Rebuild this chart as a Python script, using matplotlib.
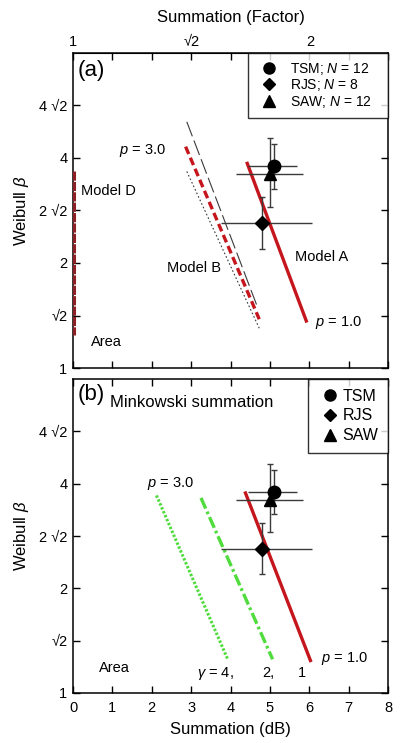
import numpy as np
import matplotlib
matplotlib.use("Agg")
import matplotlib.pyplot as plt
from matplotlib.lines import Line2D

plt.rcParams["font.family"] = ["Liberation Sans", "DejaVu Sans"]
plt.rcParams["mathtext.fontset"] = "custom"
plt.rcParams["mathtext.rm"] = "Liberation Sans"
plt.rcParams["mathtext.it"] = "Liberation Sans:italic"

# --- data (x in dB, y as Weibull beta) ---
model_a_x = [4.41, 5.94]
model_a_y = [3.90, 1.35]
model_b_x = [2.86, 4.73]
model_b_y = [4.31, 1.38]
model_b_hi_x = [2.89, 4.70]
model_b_hi_y = [5.08, 1.48]
model_b_lo_x = [2.89, 4.73]
model_b_lo_y = [3.66, 1.30]
model_d_x = [0.03, 0.03]
model_d_y = [3.66, 1.24]

mink_g1_x = [4.38, 6.03]
mink_g1_y = [3.76, 1.24]
mink_g2_x = [3.25, 5.07]
mink_g2_y = [3.64, 1.25]
mink_g4_x = [2.12, 3.93]
mink_g4_y = [3.70, 1.25]

obs_names = ["TSM", "RJS", "SAW"]
obs_n = [12, 8, 12]
obs_markers = ["o", "D", "^"]
obs_x = [5.10, 4.81, 5.00]
obs_y = [3.79, 2.60, 3.60]
obs_x_lo = [4.45, 3.75, 4.14]
obs_x_hi = [5.70, 6.08, 5.85]
obs_y_lo = [3.27, 2.20, 2.90]
obs_y_hi = [4.39, 3.09, 4.56]

yticks = [1, 2 ** 0.5, 2, 2 ** 1.5, 4, 2 ** 2.5]
ytick_labels = ["1", "√2", "2", "2 √2", "4", "4 √2"]
factor_ticks = [0, 10 * np.log10(2), 20 * np.log10(2)]
factor_labels = ["1", "√2", "2"]

RED = "#c4161c"
DARKRED = "#8e1f24"
GREEN = "#4fdc3c"
GRAY = "#3a3a3a"

fig = plt.figure(figsize=(4.0, 7.43), dpi=100)
ax1 = fig.add_axes([0.1825, 0.5047, 0.7875, 0.424])
ax2 = fig.add_axes([0.1825, 0.0673, 0.7875, 0.4226])


def style_axes(ax):
    ax.set_yscale("log", base=2)
    ax.set_ylim(1, 8)
    ax.set_xlim(0, 8)
    ax.set_yticks(yticks)
    ax.set_yticklabels(ytick_labels)
    ax.minorticks_off()
    ax.set_xticks(range(0, 9))
    ax.tick_params(direction="in", length=5, width=1.0, labelsize=10.5,
                   top=True, right=True, pad=4)
    ax.tick_params(axis="x", pad=6)
    for s in ax.spines.values():
        s.set_linewidth(1.1)
    ax.set_ylabel("Weibull $\\beta$", fontsize=12, labelpad=6)


def draw_obs(ax):
    for i in range(len(obs_names)):
        xe = [[obs_x[i] - obs_x_lo[i]], [obs_x_hi[i] - obs_x[i]]]
        ax.errorbar([obs_x[i]], [obs_y[i]], xerr=xe, fmt="none",
                    ecolor=GRAY, elinewidth=1.0, capsize=0, zorder=4)
        ye = [[obs_y[i] - obs_y_lo[i]], [obs_y_hi[i] - obs_y[i]]]
        ax.errorbar([obs_x[i]], [obs_y[i]], yerr=ye, fmt="none",
                    ecolor=GRAY, elinewidth=1.0, capsize=2.5, zorder=4)
    for i in range(len(obs_names)):
        ms = 9 if obs_markers[i] != "D" else 7.5
        ax.plot(obs_x[i], obs_y[i], obs_markers[i], color="black",
                ms=ms, zorder=5)


def add_legend(ax, labels, size, bpad, hlen, tpad, lspace):
    handles = [Line2D([], [], marker=m, color="black", linestyle="none",
                      ms=8 if m != "D" else 6.5) for m in obs_markers]
    leg = ax.legend(handles, labels, loc="upper right", borderaxespad=0,
                    fontsize=size, frameon=True, fancybox=False,
                    handletextpad=tpad, labelspacing=lspace, borderpad=bpad,
                    handlelength=hlen)
    leg.get_frame().set_edgecolor("black")
    leg.get_frame().set_linewidth(1.0)


# ---- panel (a) ----
style_axes(ax1)
ax1.tick_params(labelbottom=False)
ax1.plot(model_a_x, model_a_y, color=RED, lw=2.4, solid_capstyle="butt", zorder=3)
ax1.plot(model_b_x, model_b_y, color=RED, lw=2.4, dashes=(2.4, 1.2), zorder=3)
ax1.plot(model_b_hi_x, model_b_hi_y, color=GRAY, lw=0.8, dashes=(14, 4), zorder=2)
ax1.plot(model_b_lo_x, model_b_lo_y, color=GRAY, lw=0.8, dashes=(1.5, 2), zorder=2)
ax1.plot(model_d_x, model_d_y, color=DARKRED, lw=2.2, dashes=(3, 0.4), zorder=3)
draw_obs(ax1)
add_legend(ax1, [f"{n}; $N$ = {k}   " for n, k in zip(obs_names, obs_n)],
           10, 0.55, 1.9, 0.6, 0.05)

top = ax1.secondary_xaxis("top")
top.set_xticks(factor_ticks)
top.set_xticklabels(factor_labels)
top.tick_params(direction="in", length=0, labelsize=10.5, pad=3)
top.set_xlabel("Summation (Factor)", fontsize=12, labelpad=9)

ax1.text(0.016, 0.945, "(a)", transform=ax1.transAxes, fontsize=16,
         ha="left", va="center")
ax1.text(2.35, 4.19, "$p$ = 3.0", fontsize=10.5, ha="right", va="center")
ax1.text(0.2, 3.22, "Model D", fontsize=10.5, ha="left", va="center")
ax1.text(2.38, 1.93, "Model B", fontsize=10.5, ha="left", va="center")
ax1.text(5.63, 2.085, "Model A", fontsize=10.5, ha="left", va="center")
ax1.text(6.14, 1.35, "$p$ = 1.0", fontsize=10.5, ha="left", va="center")
ax1.text(0.45, 1.19, "Area", fontsize=10.5, ha="left", va="center")

# ---- panel (b) ----
style_axes(ax2)
ax2.plot(mink_g1_x, mink_g1_y, color=RED, lw=2.4, zorder=3)
ax2.plot(mink_g2_x, mink_g2_y, color=GREEN, lw=2.4,
         dashes=(3.5, 1.0, 0.8, 1.0), zorder=3)
ax2.plot(mink_g4_x, mink_g4_y, color=GREEN, lw=2.2,
         dashes=(0.8, 0.6), zorder=3)
draw_obs(ax2)
add_legend(ax2, obs_names, 11.5, 0.6, 1.55, 0.0, 0.3)
ax2.set_xlabel("Summation (dB)", fontsize=12, labelpad=5)

ax2.text(0.016, 0.952, "(b)", transform=ax2.transAxes, fontsize=16,
         ha="left", va="center")
ax2.text(0.117, 0.925, "Minkowski summation", transform=ax2.transAxes,
         fontsize=12, ha="left", va="center")
ax2.text(1.87, 4.0, "$p$ = 3.0", fontsize=10.5, ha="left", va="center")
ax2.text(0.66, 1.18, "Area", fontsize=10.5, ha="left", va="center")
ax2.text(3.14, 1.14, "$\\gamma$ = 4,", fontsize=10.5, ha="left", va="center")
ax2.text(4.81, 1.14, "2,", fontsize=10.5, ha="left", va="center")
ax2.text(5.72, 1.14, "1", fontsize=10.5, ha="left", va="center")
ax2.text(6.31, 1.26, "$p$ = 1.0", fontsize=10.5, ha="left", va="center")

fig.savefig("out.png", dpi=100)
